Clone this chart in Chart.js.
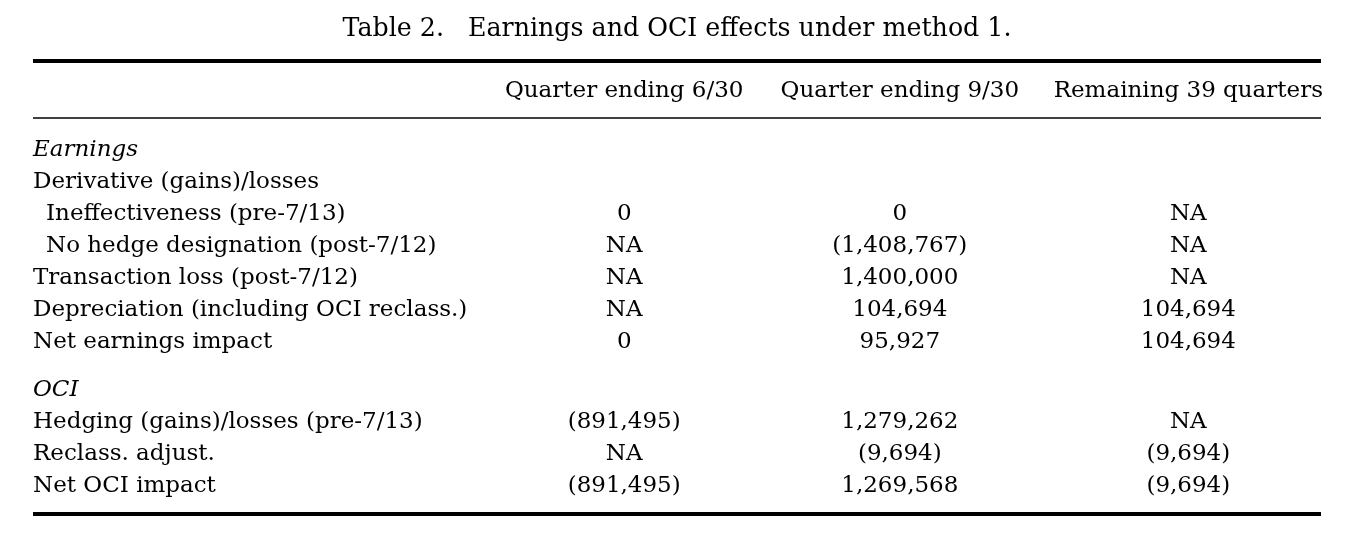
<!DOCTYPE html>
<html>
<head>
<meta charset="utf-8">
<script src="https://cdn.jsdelivr.net/npm/chart.js@4.4.0/dist/chart.umd.min.js"></script>
<style>
  html, body { margin: 0; padding: 0; background: #fff; }
  #wrap { width: 1345px; height: 540px; }
</style>
</head>
<body>
<div id="wrap"><canvas id="tableChart"></canvas></div>
<script>
// table content
const titleText = 'Table 2.   Earnings and OCI effects under method 1.';
const columnHeaders = ['Quarter ending 6/30', 'Quarter ending 9/30', 'Remaining 39 quarters'];
const rowLabels = [
    'Earnings',
    'Derivative (gains)/losses',
    'Ineffectiveness (pre-7/13)',
    'No hedge designation (post-7/12)',
    'Transaction loss (post-7/12)',
    'Depreciation (including OCI reclass.)',
    'Net earnings impact',
    'OCI',
    'Hedging (gains)/losses (pre-7/13)',
    'Reclass. adjust.',
    'Net OCI impact'
];
// '' = empty cell, 'NA' = not applicable, negatives shown in parentheses
const q630Values = ['', '', 0, 'NA', 'NA', 'NA', 0, '', -891495, 'NA', -891495];
const q930Values = ['', '', 0, -1408767, 1400000, 104694, 95927, '', 1279262, -9694, 1269568];
const remainingValues = ['', '', 'NA', 'NA', 'NA', 104694, 104694, '', 'NA', -9694, -9694];

// layout (x: fraction of table width, y: text lines below the top rule)
const colCenters = [0.459, 0.673, 0.897];
const headerLine = 1.125;
const midRuleLine = 1.78;
const firstRowLine = 2.953;
const bottomRuleLine = 14.15;
const sectionGapAfter = 6;   // blank half line after this row
const italicRows = [0, 7];
const indentRows = [2, 3];

const FONT = '"DejaVu Serif", "Liberation Serif", serif';
const FONT_SIZE = 23;

function fmt(v) {
    if (typeof v === 'string') return v;
    const s = Math.abs(v).toLocaleString('en-US');
    return v < 0 ? '(' + s + ')' : s;
}

function rowLine(i) {
    return firstRowLine + i + (i > sectionGapAfter ? 0.5 : 0);
}

function columnDataset(values, col) {
    return {
        data: values.map((v, i) => ({ x: colCenters[col], y: rowLine(i) })),
        texts: values.map(fmt),
        align: 'center',
        pointRadius: 0
    };
}

const labelDataset = {
    data: rowLabels.map((l, i) => ({ x: 0, y: rowLine(i) })),
    texts: rowLabels,
    align: 'left',
    pointRadius: 0
};

const headerDataset = {
    data: columnHeaders.map((h, c) => ({ x: colCenters[c], y: headerLine })),
    texts: columnHeaders,
    align: 'center',
    pointRadius: 0
};

const tablePlugin = {
    id: 'tableText',
    afterDatasetsDraw(chart) {
        const ctx = chart.ctx;
        const x = chart.scales.x, y = chart.scales.y;
        ctx.save();
        ctx.fillStyle = '#000';
        ctx.strokeStyle = '#000';

        // rules
        const rule = (line, w) => {
            const py = y.getPixelForValue(line);
            ctx.lineWidth = w;
            ctx.beginPath();
            ctx.moveTo(x.getPixelForValue(0), py);
            ctx.lineTo(x.getPixelForValue(1), py);
            ctx.stroke();
        };
        rule(0, 4);
        rule(midRuleLine, 1.5);
        rule(bottomRuleLine, 4);

        // cell text at point positions
        ctx.textBaseline = 'alphabetic';
        chart.data.datasets.forEach((ds, di) => {
            const meta = chart.getDatasetMeta(di);
            ctx.textAlign = ds.align;
            meta.data.forEach((pt, i) => {
                const t = ds.texts[i];
                if (!t) return;
                const isLabel = ds === chart.data.datasets[0];
                const italic = isLabel && italicRows.includes(i);
                const indent = isLabel && indentRows.includes(i) ? 13 : 0;
                ctx.font = (italic ? 'italic ' : '') + FONT_SIZE + 'px ' + FONT;
                ctx.fillText(t, pt.x + indent, pt.y);
            });
        });
        ctx.restore();
    }
};

new Chart(document.getElementById('tableChart'), {
    type: 'scatter',
    data: {
        datasets: [
            labelDataset,
            headerDataset,
            columnDataset(q630Values, 0),
            columnDataset(q930Values, 1),
            columnDataset(remainingValues, 2)
        ]
    },
    options: {
        responsive: true,
        maintainAspectRatio: false,
        animation: false,
        events: [],
        layout: { padding: { left: 33, right: 24, top: 0, bottom: 26 } },
        scales: {
            x: { type: 'linear', min: 0, max: 1, display: false },
            y: { type: 'linear', min: 0, max: bottomRuleLine, reverse: true, display: false }
        },
        plugins: {
            legend: { display: false },
            tooltip: { enabled: false },
            title: {
                display: true,
                text: titleText,
                color: '#000',
                font: { family: FONT, size: 25.3, weight: 'normal', lineHeight: 1.2 },
                padding: { top: 14, bottom: 16.6 }
            }
        }
    },
    plugins: [tablePlugin]
});
</script>
</body>
</html>
